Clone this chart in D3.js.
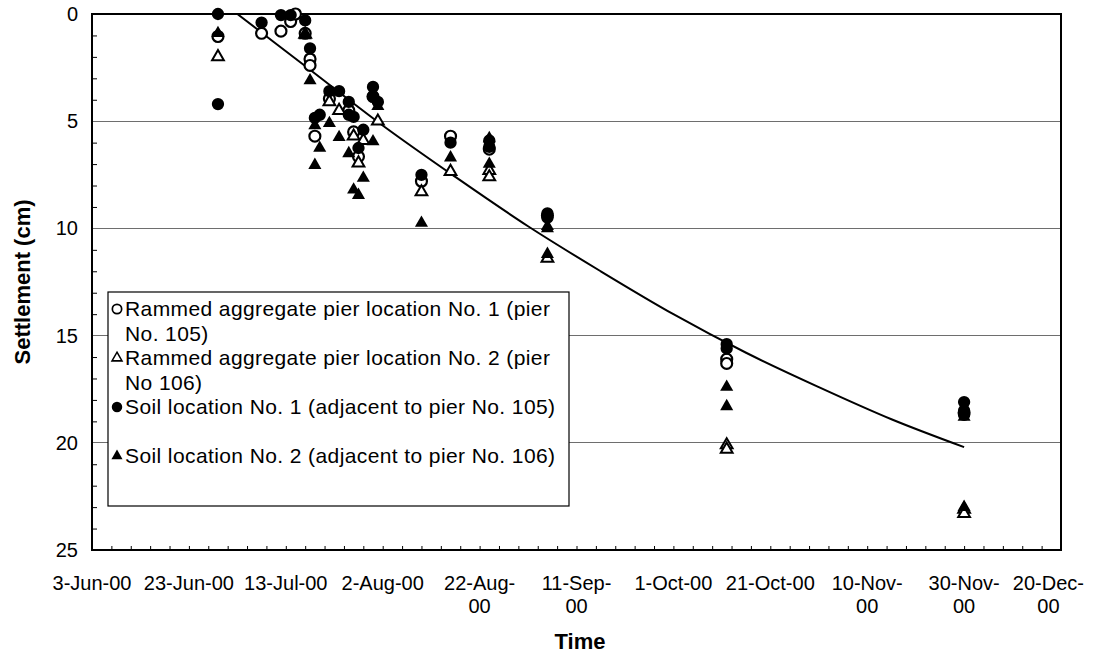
<!DOCTYPE html>
<html><head><meta charset="utf-8">
<script src="https://cdnjs.cloudflare.com/ajax/libs/d3/7.8.5/d3.min.js"></script>
<style>
body{margin:0;background:#fff}
svg{display:block}
text{font-family:"Liberation Sans",Arial,sans-serif;fill:#000}
</style>
</head><body>
<svg id="c" width="1104" height="657"></svg>
<script>
// ---------- data ----------
const seriesNames = [
  ["Rammed aggregate pier location No. 1 (pier", "No. 105)"],
  ["Rammed aggregate pier location No. 2 (pier", "No 106)"],
  ["Soil location No. 1 (adjacent to pier No. 105)"],
  ["Soil location No. 2 (adjacent to pier No. 106)"]
];
const rap1Dates  = ["06-29","07-08","07-12","07-14","07-15","07-17","07-18","07-18","07-19","07-22","07-26","07-27","07-28","07-31","08-10","08-16","08-24","09-05","10-12","10-12","11-30"];
const rap1Values = [1.05,0.9,0.8,0.35,0.0,0.9,2.1,2.4,5.7,3.95,4.5,5.5,6.65,3.85,7.8,5.7,6.3,9.4,16.1,16.3,18.6];

const rap2Dates  = ["06-29","07-17","07-22","07-24","07-27","07-28","07-29","08-01","08-10","08-16","08-24","08-24","09-05","10-12","10-12","11-30","11-30"];
const rap2Values = [2.0,0.95,4.1,4.5,5.7,6.95,5.9,5.0,8.3,7.35,7.3,7.6,11.4,20.1,20.3,23.1,23.3];

const soil1Dates  = ["06-29","06-29","07-08","07-12","07-14","07-17","07-18","07-19","07-20","07-22","07-24","07-26","07-26","07-27","07-28","07-29","07-31","07-31","08-01","08-10","08-16","08-24","08-24","09-05","09-05","10-12","10-12","11-30","11-30","11-30"];
const soil1Values = [0.0,4.2,0.4,0.05,0.05,0.3,1.6,4.85,4.7,3.6,3.6,4.1,4.7,4.8,6.25,5.4,3.4,3.85,4.1,7.5,6.0,5.9,6.2,9.3,9.5,15.4,15.6,18.1,18.5,18.7];

const soil2Dates  = ["06-29","07-17","07-18","07-19","07-19","07-20","07-22","07-24","07-26","07-27","07-28","07-29","07-31","08-01","08-10","08-16","08-24","08-24","09-05","09-05","09-05","10-12","10-12","11-30","11-30"];
const soil2Values = [0.9,1.0,3.1,5.2,7.05,6.25,5.1,5.75,6.5,8.2,8.45,7.65,5.95,4.3,9.75,6.7,5.8,7.0,9.9,10.0,11.2,17.4,18.3,18.8,23.0];

const trendDates  = ["07-03","07-18","08-02","08-17","09-01","09-16","10-01","10-16","10-31","11-15","11-30"];
const trendValues = [0,2.6,5.2,7.6,9.9,12.0,14.0,15.8,17.4,18.9,20.2];

const xTickLabels = [["3-Jun-00"],["23-Jun-00"],["13-Jul-00"],["2-Aug-00"],["22-Aug-","00"],["11-Sep-","00"],["1-Oct-00"],["21-Oct-00"],["10-Nov-","00"],["30-Nov-","00"],["20-Dec-","00"]];
const yTickValues = [0,5,10,15,20,25];

// ---------- layout ----------
const L = 92, T = 14, R = 1061, B = 550;
const parse = s => d3.utcParse("%Y-%m-%d")("2000-" + s);
const start = parse("06-03"), end = parse("12-20");
const x = d3.scaleUtc().domain([start, end]).range([L, R]);
const y = d3.scaleLinear().domain([0, 25]).range([T, B]);

const svg = d3.select("#c");

// gridlines
svg.append("g").selectAll("line").data([5,10,15,20]).join("line")
  .attr("x1", L).attr("x2", R).attr("y1", d => y(d)).attr("y2", d => y(d))
  .attr("stroke", "#6e6e6e").attr("stroke-width", 1).attr("shape-rendering","crispEdges");

// minor ticks y (inside)
const yMinor = d3.range(1, 25).filter(d => d % 5 !== 0);
svg.append("g").attr("transform", `translate(${L},0)`)
  .call(d3.axisRight(y).tickValues(yMinor).tickSize(5).tickFormat(""))
  .call(g => g.select(".domain").remove())
  .call(g => g.selectAll("line").attr("stroke","#000").attr("stroke-width",1));

// minor ticks x (inside)
const xMinor = d3.range(4, 200, 4).map(d => d3.utcDay.offset(start, d));
svg.append("g").attr("transform", `translate(0,${B})`)
  .call(d3.axisTop(x).tickValues(xMinor).tickSize(4).tickFormat(""))
  .call(g => g.select(".domain").remove())
  .call(g => g.selectAll("line").attr("stroke","#000").attr("stroke-width",1));

// plot border
svg.append("rect").attr("x", L).attr("y", T).attr("width", R - L).attr("height", B - T)
  .attr("fill", "none").attr("stroke", "#000").attr("stroke-width", 2);

// y tick labels
svg.append("g").selectAll("text").data(yTickValues).join("text")
  .attr("x", 78).attr("y", d => y(d) + 7).attr("text-anchor", "end")
  .style("font-size", "20px").text(d => d);

// x tick labels (last one kept inside the chart area, as the spreadsheet does)
const xMajor = d3.range(0, 201, 20).map(d => d3.utcDay.offset(start, d));
const xl = svg.append("g").selectAll("text").data(xMajor).join("text")
  .attr("text-anchor", "middle").style("font-size", "20px");
xl.each(function(d, i) {
  const t = d3.select(this);
  xTickLabels[i].forEach((ln, j) => {
    t.append("tspan").attr("x", 0).attr("dy", j === 0 ? 0 : 23).text(ln);
  });
  const w = this.getBBox().width;
  const cx = Math.min(x(d), 1104 - 20 - w / 2);
  t.attr("transform", `translate(${cx},590)`);
});

// axis titles
svg.append("text").attr("x", 580).attr("y", 649).attr("text-anchor", "middle")
  .style("font-size", "22px").style("font-weight", "bold").text("Time");
svg.append("text").attr("transform", `translate(30,${(T + B) / 2}) rotate(-90)`)
  .attr("text-anchor", "middle").style("font-size", "22px").style("font-weight", "bold")
  .text("Settlement (cm)");

// clip
svg.append("clipPath").attr("id", "clip").append("rect")
  .attr("x", L).attr("y", T).attr("width", R - L).attr("height", B - T);

// trend line
const trend = trendDates.map((d, i) => ({ d: parse(d), v: trendValues[i] }));
svg.append("path").datum(trend).attr("clip-path", "url(#clip)")
  .attr("fill", "none").attr("stroke", "#000").attr("stroke-width", 2)
  .attr("d", d3.line().x(p => x(p.d)).y(p => y(p.v)).curve(d3.curveMonotoneX));

// markers
const circ = d3.symbol().type(d3.symbolCircle).size(Math.PI * 38)();
const circO = d3.symbol().type(d3.symbolCircle).size(Math.PI * 30)();
const tri = d3.symbol().type(d3.symbolTriangle).size(74)();
const triO = d3.symbol().type(d3.symbolTriangle).size(60)();
const series = [
  { dates: rap1Dates, values: rap1Values, path: circO, fill: "#fff", sw: 2.2 },
  { dates: rap2Dates, values: rap2Values, path: triO, fill: "#fff", sw: 2 },
  { dates: soil1Dates, values: soil1Values, path: circ, fill: "#000", sw: 0 },
  { dates: soil2Dates, values: soil2Values, path: tri, fill: "#000", sw: 0 }
];
series.forEach(s => {
  const pts = s.dates.map((d, i) => ({ d: parse(d), v: s.values[i] }));
  svg.append("g").selectAll("path").data(pts).join("path")
    .attr("d", s.path)
    .attr("transform", p => `translate(${x(p.d)},${y(p.v)})`)
    .attr("fill", s.fill).attr("stroke", "#000").attr("stroke-width", s.sw);
});

// legend
const lg = svg.append("g");
lg.append("rect").attr("x", 108).attr("y", 292).attr("width", 461).attr("height", 214)
  .attr("fill", "#fff").attr("stroke", "#000").attr("stroke-width", 1.2);
const legY = [309, 358, 407, 456];
seriesNames.forEach((lines, i) => {
  const s = series[i];
  lg.append("path").attr("d", s.path)
    .attr("fill", s.fill).attr("stroke", "#000").attr("stroke-width", s.sw * 0.9)
    .attr("transform", `translate(117,${legY[i]}) scale(0.85)`);
  const t = lg.append("text").attr("x", 125).attr("y", legY[i] + 7)
    .style("font-size", "21px").style("letter-spacing", "0.4px");
  lines.forEach((ln, j) => t.append("tspan").attr("x", 125).attr("dy", j === 0 ? 0 : 24.5).text(ln));
});
</script>
</body></html>
